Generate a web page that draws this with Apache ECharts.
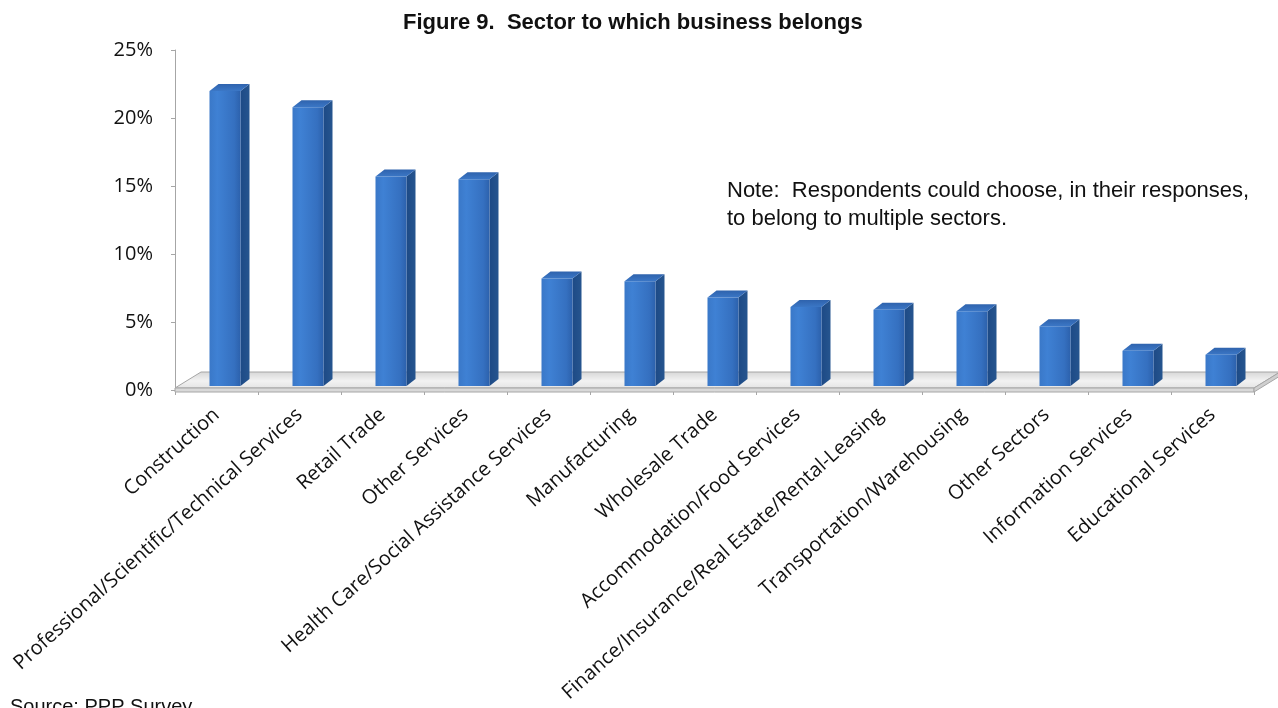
<!DOCTYPE html>
<html>
<head>
<meta charset="utf-8">
<title>Sector to which business belongs</title>
<script src="https://cdn.jsdelivr.net/npm/echarts@6/dist/echarts.min.js"></script>
<style>
  html, body { margin: 0; padding: 0; background: #ffffff; }
  #chart { width: 1278px; height: 708px; }
</style>
</head>
<body>
<div id="chart"></div>
<script>
// Sectors, in the order shown
const sectors = [
  'Construction',
  'Professional/Scientific/Technical Services',
  'Retail Trade',
  'Other Services',
  'Health Care/Social Assistance Services',
  'Manufacturing',
  'Wholesale Trade',
  'Accommodation/Food Services',
  'Finance/Insurance/Real Estate/Rental-Leasing',
  'Transportation/Warehousing',
  'Other Sectors',
  'Information Services',
  'Educational Services'
];

// Share of respondents (%) in each sector
const shares = [21.7, 20.5, 15.4, 15.2, 7.9, 7.7, 6.5, 5.8, 5.6, 5.5, 4.4, 2.6, 2.3];

// Value-axis ticks (%)
const yTicks = [0, 5, 10, 15, 20, 25];

const titleText = 'Figure 9.  Sector to which business belongs';
const noteLines = [
  'Note:  Respondents could choose, in their responses,',
  'to belong to multiple sectors.'
];
const sourceText = 'Source: PPP Survey';

const chart = echarts.init(document.getElementById('chart'), null, { renderer: 'canvas' });

// Floor of the 3D plot area, drawn from the grid's own rectangle
function renderFloor(params, api) {
  const cs = params.coordSys;
  const y0 = api.coord([0, 0])[1];
  const left = cs.x, right = cs.x + cs.width;
  const depthX = 26, depthY = 16;
  const front = y0 - 2;
  return {
    type: 'group',
    children: [
      {
        type: 'polygon',
        shape: { points: [
          [left, front], [left + depthX, front - depthY],
          [right + depthX, front - depthY], [right, front]
        ] },
        style: {
          fill: new echarts.graphic.LinearGradient(0, 0, 0, 1, [
            { offset: 0, color: '#d6d6d6' },
            { offset: 0.55, color: '#f2f2f2' },
            { offset: 1, color: '#e4e4e4' }
          ]),
          stroke: '#a6a6a6', lineWidth: 1
        }
      },
      {
        type: 'polygon',
        shape: { points: [
          [left, front], [right, front], [right, y0 + 2], [left, y0 + 2]
        ] },
        style: { fill: '#d9d9d9', stroke: '#a6a6a6', lineWidth: 1 }
      },
      {
        type: 'polygon',
        shape: { points: [
          [right, front], [right + depthX, front - depthY],
          [right + depthX, front - depthY + 4], [right, y0 + 2]
        ] },
        style: { fill: '#cfcfcf', stroke: '#a6a6a6', lineWidth: 1 }
      }
    ]
  };
}

// One 3D column: front face, right side and top
function renderColumn(params, api) {
  const idx = api.value(0);
  const base = api.coord([idx, 0]);
  const top = api.coord([idx, api.value(1)]);
  const lift = 4;           // columns stand in the middle of the floor depth
  const w = 31, dx = 9, dy = 7;
  const x0 = base[0] - 7;
  const x1 = x0 + w;
  const yb = base[1] - lift;
  const yt = top[1] - lift;
  return {
    type: 'group',
    children: [
      {
        type: 'polygon',
        shape: { points: [[x1, yb], [x1 + dx, yb - dy], [x1 + dx, yt - dy], [x1, yt]] },
        style: {
          fill: new echarts.graphic.LinearGradient(0, 0, 1, 0, [
            { offset: 0, color: '#1d4a86' },
            { offset: 1, color: '#26558f' }
          ])
        }
      },
      {
        type: 'rect',
        shape: { x: x0, y: yt, width: w, height: yb - yt },
        style: {
          fill: new echarts.graphic.LinearGradient(0, 0, 1, 0, [
            { offset: 0, color: '#3a78c8' },
            { offset: 0.25, color: '#3f81d4' },
            { offset: 0.8, color: '#3570c0' },
            { offset: 1, color: '#2c61ac' }
          ])
        }
      },
      {
        type: 'polygon',
        shape: { points: [[x0, yt], [x0 + dx, yt - dy], [x1 + dx, yt - dy], [x1, yt]] },
        style: {
          fill: new echarts.graphic.LinearGradient(0, 0, 0, 1, [
            { offset: 0, color: '#2f63ad' },
            { offset: 1, color: '#3b77c6' }
          ])
        }
      }
    ]
  };
}

const labelFont = "'Open Sans', 'Noto Sans', sans-serif";
const axisGray = '#a6a6a6';

chart.setOption({
  animation: false,
  backgroundColor: '#ffffff',
  grid: { left: 175, right: 24, top: 50, bottom: 318, containLabel: false },
  xAxis: {
    type: 'category',
    data: sectors,
    offset: 2,
    axisLine: { show: true, lineStyle: { color: axisGray, width: 1 } },
    axisTick: { show: true, alignWithLabel: false, length: 5, lineStyle: { color: axisGray } },
    axisLabel: {
      interval: 0,
      rotate: 42,
      margin: 20,
      color: '#111111',
      fontFamily: labelFont,
      fontSize: 20
    },
    splitLine: { show: false }
  },
  yAxis: {
    type: 'value',
    min: yTicks[0],
    max: yTicks[yTicks.length - 1],
    interval: yTicks[1] - yTicks[0],
    axisLine: { show: true, lineStyle: { color: axisGray, width: 1 } },
    axisTick: { show: true, length: 4, lineStyle: { color: axisGray } },
    axisLabel: {
      margin: 22,
      color: '#111111',
      fontFamily: labelFont,
      fontSize: 20,
      formatter: v => v + '%'
    },
    splitLine: { show: false }
  },
  series: [
    {
      type: 'custom',
      name: 'floor',
      renderItem: renderFloor,
      data: [[0, 0]],
      silent: true,
      z: 1
    },
    {
      type: 'custom',
      name: 'Share of respondents',
      renderItem: renderColumn,
      data: shares.map((v, i) => [i, v]),
      encode: { x: 0, y: 1 },
      z: 2
    }
  ],
  graphic: [
    {
      type: 'text',
      left: 632 - 229,
      top: 12,
      style: {
        text: titleText,
        fontFamily: "'Liberation Sans', Arial, sans-serif",
        fontWeight: 'bold',
        fontSize: 22,
        fill: '#111111'
      }
    },
    {
      type: 'text',
      left: 727,
      top: 177,
      style: {
        text: noteLines.join('\n'),
        fontFamily: "'Liberation Sans', Arial, sans-serif",
        fontSize: 22,
        lineHeight: 28,
        fill: '#111111'
      }
    },
    {
      type: 'text',
      left: 10,
      top: 697,
      style: {
        text: sourceText,
        fontFamily: "'Liberation Sans', Arial, sans-serif",
        fontSize: 20,
        fill: '#111111'
      }
    }
  ]
});
</script>
</body>
</html>
